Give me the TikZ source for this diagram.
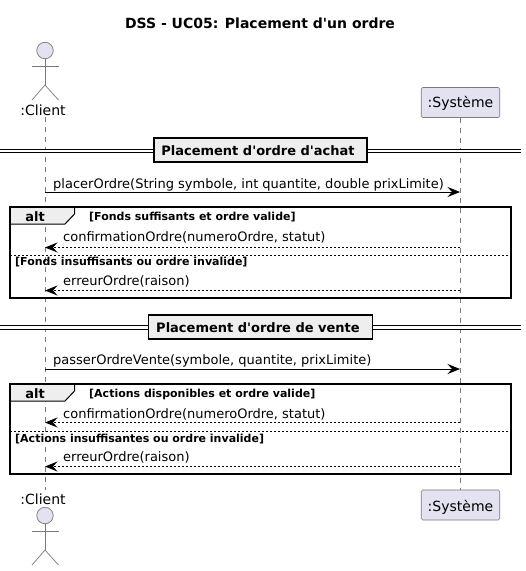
\documentclass[tikz,border=0pt]{standalone}
\usepackage{fontspec}
\setmainfont{DejaVu Sans}
\usetikzlibrary{arrows.meta}
\definecolor{partfill}{HTML}{E2E2F0}
\definecolor{partline}{HTML}{7A7A7A}
\definecolor{tabfill}{HTML}{EEEEEE}
\begin{document}
\begin{tikzpicture}[
  x=1pt,y=-1pt,
  every node/.style={inner sep=0pt,text=black},
  msgtext/.style={anchor=base west,font=\fontsize{13}{15}\selectfont},
  guardtext/.style={anchor=base west,font=\fontsize{11}{13}\selectfont\bfseries},
  parttext/.style={anchor=base,font=\fontsize{14}{16}\selectfont},
  participant/.style={draw=partline,fill=partfill,rounded corners=1.5pt,line width=0.6pt,minimum width=78.5pt,minimum height=30pt},
  divider/.style={draw=black,fill=tabfill,line width=1.7pt,minimum height=23.5pt,anchor=center},
  lifeline/.style={draw=partline,line width=0.6pt,dash pattern=on 5pt off 5pt},
  call/.style={draw=black,line width=0.9pt,-{Stealth[length=12.5pt,width=10pt,inset=4.5pt]}},
  reply/.style={call,line width=0.8pt,dash pattern=on 2pt off 2pt},
  actorline/.style={draw=partline,line width=0.7pt},
  actorhead/.style={draw=partline,fill=partfill,line width=0.7pt,circle,minimum size=16.5pt},
  frame/.style={draw=black,line width=1.7pt},
  separator/.style={draw=black,line width=0.7pt,dash pattern=on 2pt off 2pt}
  ]
  \useasboundingbox (0,0) rectangle (526,571);
  \node[anchor=base,font=\fontsize{14}{16}\selectfont\bfseries] (title) at (260,28) {DSS - UC05: Placement d\textquotesingle un ordre};

  % lifelines
  \coordinate (Ctop) at (45,117);
  \coordinate (Cbot) at (45,490);
  \node[participant] (Stop) at (460.5,102.5) {};
  \node[participant] (Sbot) at (460.5,505) {};
  \node[parttext] (Stoptext) at (460.5,107) {:Système};
  \node[parttext] (Sbottext) at (460.5,511) {:Système};
  \draw[lifeline] (Ctop) -- (Cbot);
  \draw[lifeline] (Stop.south) -- (Sbot.north);

  % actor top
  \node[actorhead] (Chead) at (45,50.5) {};
  \coordinate (Chip) at (45,85);
  \coordinate (Carml) at (32,66);
  \coordinate (Carmr) at (58.5,66);
  \coordinate (Clegl) at (32,100);
  \coordinate (Clegr) at (58.5,100);
  \draw[actorline] (Chead) -- (Chip);
  \draw[actorline] (Carml) -- (Carmr);
  \draw[actorline] (Clegl) -- (Chip) -- (Clegr);
  \node[parttext] (Ctext) at (43,115) {:Client};

  % actor bottom
  \node[parttext] (Cbottext) at (43,504) {:Client};
  \node[actorhead] (Dhead) at (45,515.5) {};
  \coordinate (Dhip) at (45,550);
  \coordinate (Darml) at (32,531);
  \coordinate (Darmr) at (58.5,531);
  \coordinate (Dlegl) at (32,565);
  \coordinate (Dlegr) at (58.5,565);
  \draw[actorline] (Dhead) -- (Dhip);
  \draw[actorline] (Darml) -- (Darmr);
  \draw[actorline] (Dlegl) -- (Dhip) -- (Dlegr);

  % first divider
  \coordinate (Al) at (0,151);
  \coordinate (Ar) at (521,151);
  \draw[line width=1pt,double distance=2.2pt] (Al) -- (Ar);
  \node[divider,minimum width=213pt] (Abox) at (260.5,150) {};
  \node[anchor=base,font=\fontsize{13}{15}\selectfont\bfseries] (Atext) at (258,155) {Placement d\textquotesingle ordre d\textquotesingle achat};

  \coordinate (m1a) at (45,192);
  \coordinate (m1b) at (460,192);
  \draw[call] (m1a) -- (m1b);
  \node[msgtext] (m1text) at (53,188) {placerOrdre(String symbole, int quantite, double prixLimite)};

  % first alt
  \coordinate (F1a) at (10,207);
  \coordinate (F1b) at (511,298);
  \coordinate (T1a) at (10,224);
  \coordinate (T1b) at (65,224);
  \coordinate (T1c) at (74.5,214);
  \coordinate (T1d) at (74.5,207);
  \draw[fill=tabfill,line width=1pt] (F1a) -- (T1d) -- (T1c) -- (T1b) -- (T1a) -- cycle;
  \draw[frame] (F1a) rectangle (F1b);
  \node[anchor=base,font=\fontsize{13}{15}\selectfont\bfseries] (alt1) at (35,221) {alt};
  \node[guardtext] (g1) at (89,220) {[Fonds suffisants et ordre valide]};
  \node[msgtext] (r1text) at (63,241) {confirmationOrdre(numeroOrdre, statut)};
  \coordinate (r1a) at (460,247.5);
  \coordinate (r1b) at (45,247.5);
  \draw[reply] (r1a) -- (r1b);
  \coordinate (s1a) at (10,255);
  \coordinate (s1b) at (511,255);
  \draw[separator] (s1a) -- (s1b);
  \node[guardtext] (g2) at (15,265) {[Fonds insuffisants ou ordre invalide]};
  \node[msgtext] (r2text) at (63,285) {erreurOrdre(raison)};
  \coordinate (r2a) at (460,290.5);
  \coordinate (r2b) at (45,290.5);
  \draw[reply] (r2a) -- (r2b);

  % second divider
  \coordinate (Bl) at (0,327.5);
  \coordinate (Br) at (521,327.5);
  \draw[line width=1pt,double distance=2.2pt] (Bl) -- (Br);
  \node[divider,minimum width=224pt] (Bbox) at (260.5,327) {};
  \node[anchor=base,font=\fontsize{13}{15}\selectfont\bfseries] (Btext) at (258,332) {Placement d\textquotesingle ordre de vente};

  \coordinate (m2a) at (45,369);
  \coordinate (m2b) at (460,369);
  \draw[call] (m2a) -- (m2b);
  \node[msgtext] (m2text) at (53,364) {passerOrdreVente(symbole, quantite, prixLimite)};

  % second alt
  \coordinate (F2a) at (10,384);
  \coordinate (F2b) at (511,474);
  \coordinate (T2a) at (10,401);
  \coordinate (T2b) at (65,401);
  \coordinate (T2c) at (74.5,391);
  \coordinate (T2d) at (74.5,384);
  \draw[fill=tabfill,line width=1pt] (F2a) -- (T2d) -- (T2c) -- (T2b) -- (T2a) -- cycle;
  \draw[frame] (F2a) rectangle (F2b);
  \node[anchor=base,font=\fontsize{13}{15}\selectfont\bfseries] (alt2) at (35,398) {alt};
  \node[guardtext] (g3) at (89,397) {[Actions disponibles et ordre valide]};
  \node[msgtext] (r3text) at (63,418) {confirmationOrdre(numeroOrdre, statut)};
  \coordinate (r3a) at (460,422.5);
  \coordinate (r3b) at (45,422.5);
  \draw[reply] (r3a) -- (r3b);
  \coordinate (s2a) at (10,431.5);
  \coordinate (s2b) at (511,431.5);
  \draw[separator] (s2a) -- (s2b);
  \node[guardtext] (g4) at (15,442) {[Actions insuffisantes ou ordre invalide]};
  \node[msgtext] (r4text) at (63,461) {erreurOrdre(raison)};
  \coordinate (r4a) at (460,466.5);
  \coordinate (r4b) at (45,466.5);
  \draw[reply] (r4a) -- (r4b);
\end{tikzpicture}
\end{document}
